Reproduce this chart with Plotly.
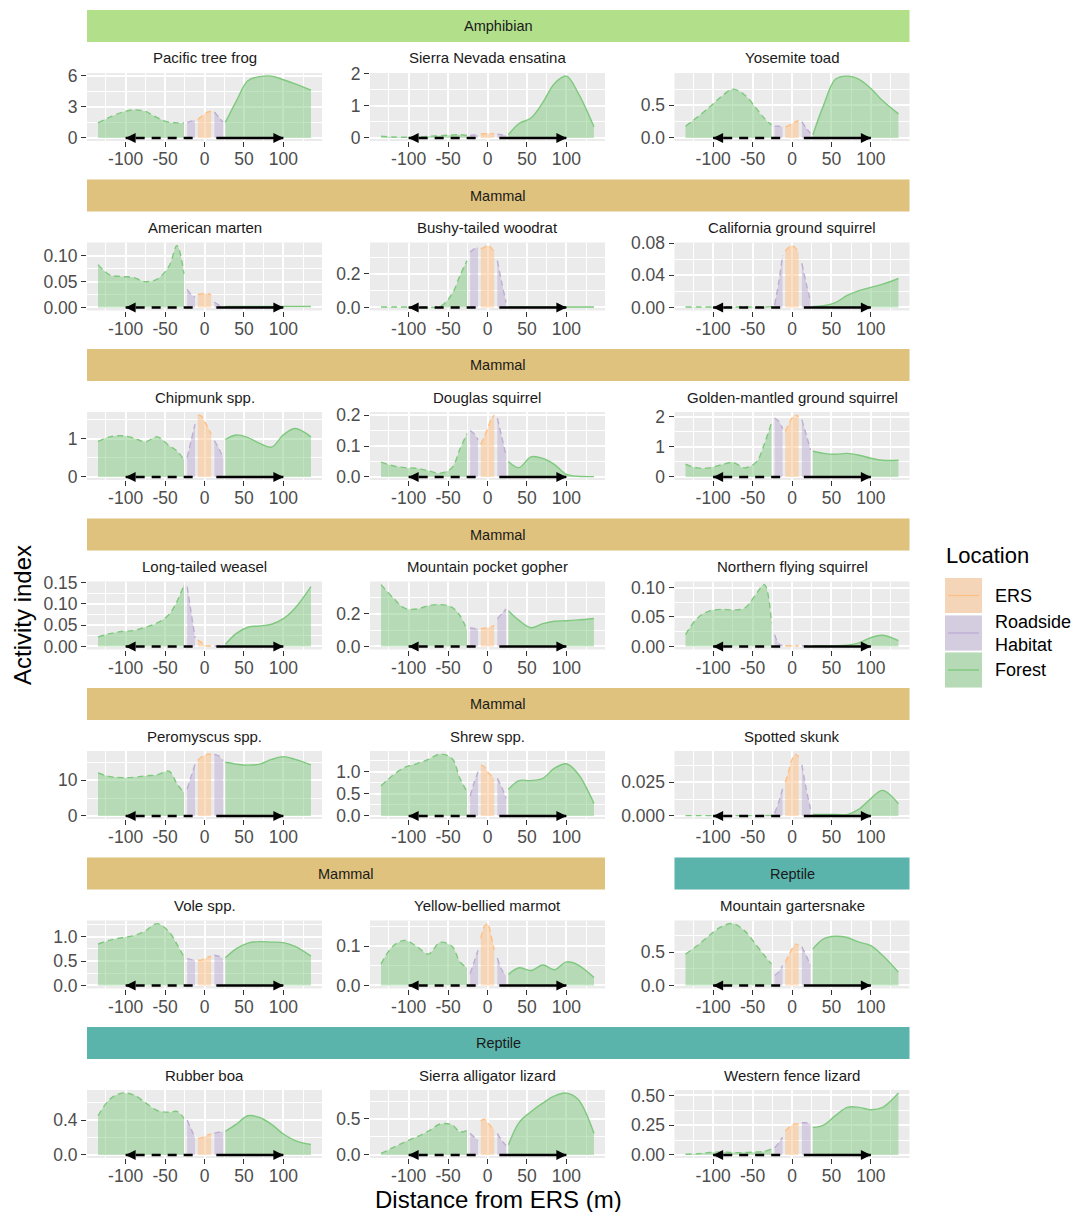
import plotly.graph_objects as go

FIG_W, FIG_H = 1075, 1212

# ---------------------------------------------------------------- data
species = [
    "Pacific tree frog", "Sierra Nevada ensatina", "Yosemite toad",
    "American marten", "Bushy-tailed woodrat", "California ground squirrel",
    "Chipmunk spp.", "Douglas squirrel", "Golden-mantled ground squirrel",
    "Long-tailed weasel", "Mountain pocket gopher", "Northern flying squirrel",
    "Peromyscus spp.", "Shrew spp.", "Spotted skunk",
    "Vole spp.", "Yellow-bellied marmot", "Mountain gartersnake",
    "Rubber boa", "Sierra alligator lizard", "Western fence lizard",
]

# taxon strips: (label, row, first column, last column)
taxon_strips = [
    ("Amphibian", 0, 0, 2),
    ("Mammal", 1, 0, 2),
    ("Mammal", 2, 0, 2),
    ("Mammal", 3, 0, 2),
    ("Mammal", 4, 0, 2),
    ("Mammal", 5, 0, 1),
    ("Reptile", 5, 2, 2),
    ("Reptile", 6, 0, 2),
]
taxon_colors = {"Amphibian": "#B2DF8A", "Mammal": "#DFC27D", "Reptile": "#5AB4AC"}

# distance (m) sampled within each location band
x_forest_left = [-135, -120, -105, -90, -75, -60, -45, -35, -26]
x_road_left = [-22, -17, -12]
x_ers = [-8.5, -4.25, 0, 4.25, 8.5]
x_road_right = [12.5, 18, 23.5]
x_forest_right = [26.5, 40, 55, 70, 85, 100, 115, 135]

forest_left = {
    "Pacific tree frog": [1.45, 2.0, 2.45, 2.7, 2.55, 1.95, 1.5, 1.45, 1.45],
    "Sierra Nevada ensatina": [0.05, 0.03, 0.02, 0.03, 0.05, 0.07, 0.09, 0.1, 0.08],
    "Yosemite toad": [0.18, 0.32, 0.47, 0.63, 0.75, 0.66, 0.45, 0.3, 0.2],
    "American marten": [0.083, 0.063, 0.06, 0.058, 0.05, 0.055, 0.08, 0.12, 0.065],
    "Bushy-tailed woodrat": [0.002, 0.002, 0.002, 0.002, 0.002, 0.005, 0.08, 0.19, 0.28],
    "California ground squirrel": [0.0005, 0.0005, 0.0005, 0.0005, 0.0005, 0.0005, 0.0005, 0.0005, 0.001],
    "Chipmunk spp.": [0.93, 1.05, 1.08, 1.02, 0.92, 1.05, 0.82, 0.68, 0.45],
    "Douglas squirrel": [0.048, 0.036, 0.03, 0.028, 0.02, 0.012, 0.03, 0.09, 0.14],
    "Golden-mantled ground squirrel": [0.42, 0.3, 0.3, 0.4, 0.48, 0.3, 0.5, 1.1, 1.8],
    "Long-tailed weasel": [0.022, 0.03, 0.035, 0.037, 0.045, 0.055, 0.075, 0.105, 0.145],
    "Mountain pocket gopher": [0.38, 0.3, 0.235, 0.23, 0.25, 0.257, 0.24, 0.19, 0.1],
    "Northern flying squirrel": [0.02, 0.048, 0.06, 0.063, 0.062, 0.065, 0.09, 0.105, 0.04],
    "Peromyscus spp.": [12, 11, 10.7, 10.8, 11.2, 11.5, 12.5, 9, 6.5],
    "Shrew spp.": [0.68, 0.92, 1.1, 1.18, 1.28, 1.4, 1.3, 0.85, 0.55],
    "Spotted skunk": [0.0002, 0.0002, 0.0002, 0.0002, 0.0002, 0.0002, 0.0002, 0.0002, 0.0003],
    "Vole spp.": [0.85, 0.93, 0.98, 1.02, 1.12, 1.27, 1.1, 0.85, 0.58],
    "Yellow-bellied marmot": [0.055, 0.1, 0.115, 0.1, 0.08, 0.11, 0.1, 0.06, 0.045],
    "Mountain gartersnake": [0.47, 0.6, 0.75, 0.88, 0.93, 0.82, 0.6, 0.45, 0.32],
    "Rubber boa": [0.45, 0.64, 0.71, 0.69, 0.6, 0.51, 0.49, 0.5, 0.42],
    "Sierra alligator lizard": [0.02, 0.1, 0.18, 0.25, 0.33, 0.43, 0.42, 0.32, 0.34],
    "Western fence lizard": [0.005, 0.01, 0.02, 0.025, 0.02, 0.02, 0.025, 0.03, 0.05],
}

road_left = {
    "Pacific tree frog": [1.5, 1.6, 1.7],
    "Sierra Nevada ensatina": [0.08, 0.09, 0.1],
    "Yosemite toad": [0.18, 0.18, 0.17],
    "American marten": [0.035, 0.025, 0.02],
    "Bushy-tailed woodrat": [0.33, 0.35, 0.36],
    "California ground squirrel": [0.003, 0.03, 0.065],
    "Chipmunk spp.": [0.5, 0.95, 1.38],
    "Douglas squirrel": [0.15, 0.14, 0.12],
    "Golden-mantled ground squirrel": [1.95, 1.85, 1.6],
    "Long-tailed weasel": [0.14, 0.08, 0.02],
    "Mountain pocket gopher": [0.115, 0.11, 0.11],
    "Northern flying squirrel": [0.02, 0.005, 0.001],
    "Peromyscus spp.": [7.5, 11, 14.5],
    "Shrew spp.": [0.45, 0.75, 1.0],
    "Spotted skunk": [0.002, 0.01, 0.02],
    "Vole spp.": [0.55, 0.53, 0.52],
    "Yellow-bellied marmot": [0.03, 0.06, 0.09],
    "Mountain gartersnake": [0.15, 0.2, 0.3],
    "Rubber boa": [0.4, 0.3, 0.19],
    "Sierra alligator lizard": [0.3, 0.25, 0.2],
    "Western fence lizard": [0.06, 0.1, 0.15],
}

ers = {
    "Pacific tree frog": [1.75, 2.05, 2.3, 2.5, 2.55],
    "Sierra Nevada ensatina": [0.12, 0.13, 0.14, 0.14, 0.13],
    "Yosemite toad": [0.17, 0.19, 0.22, 0.25, 0.26],
    "American marten": [0.025, 0.026, 0.027, 0.026, 0.025],
    "Bushy-tailed woodrat": [0.35, 0.36, 0.37, 0.36, 0.33],
    "California ground squirrel": [0.07, 0.075, 0.077, 0.074, 0.068],
    "Chipmunk spp.": [1.62, 1.6, 1.45, 1.3, 1.12],
    "Douglas squirrel": [0.105, 0.13, 0.155, 0.185, 0.2],
    "Golden-mantled ground squirrel": [1.5, 1.75, 1.95, 2.05, 2.0],
    "Long-tailed weasel": [0.015, 0.01, 0.003, 0.001, 0.001],
    "Mountain pocket gopher": [0.11, 0.112, 0.115, 0.12, 0.13],
    "Northern flying squirrel": [0.001, 0.001, 0.001, 0.001, 0.001],
    "Peromyscus spp.": [15.5, 16.5, 17, 17.3, 17.2],
    "Shrew spp.": [1.15, 1.12, 1.0, 0.92, 0.85],
    "Spotted skunk": [0.025, 0.033, 0.042, 0.046, 0.044],
    "Vole spp.": [0.52, 0.52, 0.55, 0.58, 0.6],
    "Yellow-bellied marmot": [0.12, 0.15, 0.158, 0.13, 0.09],
    "Mountain gartersnake": [0.35, 0.45, 0.55, 0.62, 0.6],
    "Rubber boa": [0.19, 0.195, 0.21, 0.23, 0.24],
    "Sierra alligator lizard": [0.47, 0.5, 0.45, 0.4, 0.35],
    "Western fence lizard": [0.2, 0.23, 0.25, 0.26, 0.26],
}

road_right = {
    "Pacific tree frog": [2.5, 2.0, 1.5],
    "Sierra Nevada ensatina": [0.12, 0.1, 0.08],
    "Yosemite toad": [0.25, 0.15, 0.07],
    "American marten": [0.01, 0.005, 0.002],
    "Bushy-tailed woodrat": [0.28, 0.15, 0.03],
    "California ground squirrel": [0.055, 0.03, 0.008],
    "Chipmunk spp.": [0.95, 0.75, 0.52],
    "Douglas squirrel": [0.19, 0.13, 0.07],
    "Golden-mantled ground squirrel": [1.9, 1.4, 0.9],
    "Long-tailed weasel": [0.001, 0.001, 0.001],
    "Mountain pocket gopher": [0.17, 0.2, 0.23],
    "Northern flying squirrel": [0.001, 0.001, 0.001],
    "Peromyscus spp.": [17.2, 16.8, 15.5],
    "Shrew spp.": [0.85, 0.65, 0.4],
    "Spotted skunk": [0.038, 0.02, 0.005],
    "Vole spp.": [0.62, 0.6, 0.55],
    "Yellow-bellied marmot": [0.07, 0.04, 0.025],
    "Mountain gartersnake": [0.58, 0.45, 0.3],
    "Rubber boa": [0.25, 0.26, 0.27],
    "Sierra alligator lizard": [0.3, 0.2, 0.13],
    "Western fence lizard": [0.27, 0.27, 0.26],
}

forest_right = {
    "Pacific tree frog": [1.5, 3.5, 5.5, 5.9, 5.95, 5.6, 5.2, 4.6],
    "Sierra Nevada ensatina": [0.1, 0.45, 0.62, 1.1, 1.7, 1.93, 1.4, 0.35],
    "Yosemite toad": [0.05, 0.5, 0.9, 0.95, 0.9, 0.76, 0.57, 0.37],
    "American marten": [0.002, 0.002, 0.002, 0.002, 0.002, 0.002, 0.002, 0.002],
    "Bushy-tailed woodrat": [0.002, 0.002, 0.002, 0.002, 0.002, 0.002, 0.002, 0.002],
    "California ground squirrel": [0.001, 0.002, 0.006, 0.015, 0.021, 0.025, 0.029, 0.036],
    "Chipmunk spp.": [0.98, 1.1, 1.03, 0.88, 0.78, 1.1, 1.27, 1.05],
    "Douglas squirrel": [0.05, 0.03, 0.065, 0.06, 0.04, 0.008, 0.002, 0.001],
    "Golden-mantled ground squirrel": [0.85, 0.78, 0.75, 0.78, 0.72, 0.62, 0.55, 0.55],
    "Long-tailed weasel": [0.005, 0.03, 0.045, 0.048, 0.052, 0.065, 0.09, 0.14],
    "Mountain pocket gopher": [0.22, 0.16, 0.115, 0.14, 0.155, 0.158, 0.163, 0.172],
    "Northern flying squirrel": [0.001, 0.001, 0.001, 0.002, 0.006, 0.015, 0.019, 0.01],
    "Peromyscus spp.": [15, 14.5, 14.2, 14.5, 15.8, 16.6, 15.8, 14.3],
    "Shrew spp.": [0.6, 0.8, 0.8, 0.85, 1.08, 1.18, 0.95, 0.28],
    "Spotted skunk": [0.001, 0.001, 0.001, 0.001, 0.005, 0.013, 0.019, 0.009],
    "Vole spp.": [0.57, 0.75, 0.87, 0.9, 0.89, 0.88, 0.8, 0.6],
    "Yellow-bellied marmot": [0.028, 0.045, 0.038, 0.052, 0.04, 0.06, 0.052, 0.02],
    "Mountain gartersnake": [0.55, 0.7, 0.74, 0.72, 0.65, 0.6, 0.45, 0.2],
    "Rubber boa": [0.27, 0.35, 0.45, 0.43, 0.35, 0.24, 0.165, 0.12],
    "Sierra alligator lizard": [0.14, 0.45, 0.6, 0.72, 0.82, 0.86, 0.77, 0.3],
    "Western fence lizard": [0.23, 0.25, 0.33, 0.4, 0.4, 0.38, 0.4, 0.52],
}

# y axis breaks and their labels, per panel
y_breaks = {
    "Pacific tree frog": [0, 3, 6],
    "Sierra Nevada ensatina": [0, 1, 2],
    "Yosemite toad": [0.0, 0.5],
    "American marten": [0.0, 0.05, 0.10],
    "Bushy-tailed woodrat": [0.0, 0.2],
    "California ground squirrel": [0.0, 0.04, 0.08],
    "Chipmunk spp.": [0, 1],
    "Douglas squirrel": [0.0, 0.1, 0.2],
    "Golden-mantled ground squirrel": [0, 1, 2],
    "Long-tailed weasel": [0.0, 0.05, 0.10, 0.15],
    "Mountain pocket gopher": [0.0, 0.2, 0.4],
    "Northern flying squirrel": [0.0, 0.05, 0.10],
    "Peromyscus spp.": [0, 10],
    "Shrew spp.": [0.0, 0.5, 1.0],
    "Spotted skunk": [0.0, 0.025],
    "Vole spp.": [0.0, 0.5, 1.0],
    "Yellow-bellied marmot": [0.0, 0.1],
    "Mountain gartersnake": [0.0, 0.5],
    "Rubber boa": [0.0, 0.4],
    "Sierra alligator lizard": [0.0, 0.5],
    "Western fence lizard": [0.0, 0.25, 0.50],
}
y_labels = {
    "Pacific tree frog": ["0", "3", "6"],
    "Sierra Nevada ensatina": ["0", "1", "2"],
    "Yosemite toad": ["0.0", "0.5"],
    "American marten": ["0.00", "0.05", "0.10"],
    "Bushy-tailed woodrat": ["0.0", "0.2"],
    "California ground squirrel": ["0.00", "0.04", "0.08"],
    "Chipmunk spp.": ["0", "1"],
    "Douglas squirrel": ["0.0", "0.1", "0.2"],
    "Golden-mantled ground squirrel": ["0", "1", "2"],
    "Long-tailed weasel": ["0.00", "0.05", "0.10", "0.15"],
    "Mountain pocket gopher": ["0.0", "0.2", "0.4"],
    "Northern flying squirrel": ["0.00", "0.05", "0.10"],
    "Peromyscus spp.": ["0", "10"],
    "Shrew spp.": ["0.0", "0.5", "1.0"],
    "Spotted skunk": ["0.000", "0.025"],
    "Vole spp.": ["0.0", "0.5", "1.0"],
    "Yellow-bellied marmot": ["0.0", "0.1"],
    "Mountain gartersnake": ["0.0", "0.5"],
    "Rubber boa": ["0.0", "0.4"],
    "Sierra alligator lizard": ["0.0", "0.5"],
    "Western fence lizard": ["0.00", "0.25", "0.50"],
}

x_breaks = [-100, -50, 0, 50, 100]
x_labels = ["-100", "-50", "0", "50", "100"]
x_limits = [-149, 149]

# movement arrows drawn along the baseline (start, tip)
arrow_dashed = (-15, -100)
arrow_solid = (15, 100)

location_names = ["ERS", "Roadside\nHabitat", "Forest"]
location_colors = {"ERS": "#FDC086", "Roadside": "#BEAED4", "Forest": "#7FC97F"}

# ---------------------------------------------------------------- layout geometry (px)
col_px = [(87, 322), (370, 605), (674.5, 909.5)]
ROW_STEP = 169.5
PANEL_TOP0, PANEL_H = 73, 68
STRIP_TOP0, STRIP_H = 10, 32
TITLE_Y0 = 58

FONT = "Liberation Sans, Arial, sans-serif"
PANEL_BG = "#EBEBEB"


def px_x(v):
    return v / FIG_W


def px_y(v):
    return 1 - v / FIG_H


def rgba(hex_color, a):
    h = hex_color.lstrip("#")
    r, g, b = int(h[0:2], 16), int(h[2:4], 16), int(h[4:6], 16)
    return f"rgba({r},{g},{b},{a})"


def minor_breaks(major, lo, hi):
    step = major[1] - major[0]
    cands = [major[0] - step / 2] + [m + step / 2 for m in major]
    return [v for v in cands if lo <= v <= hi]


fig = go.Figure()
annotations = []
shapes = []
layout_axes = {}

for k, name in enumerate(species):
    r, c = divmod(k, 3)
    idx = k + 1
    sfx = "" if idx == 1 else str(idx)
    xref, yref = f"x{sfx}", f"y{sfx}"

    segments = [
        (x_forest_left, forest_left[name], "Forest", "6px,4px"),
        (x_road_left, road_left[name], "Roadside", "6px,4px"),
        (x_ers, ers[name], "ERS", "6px,4px"),
        (x_road_right, road_right[name], "Roadside", "6px,4px"),
        (x_forest_right, forest_right[name], "Forest", "solid"),
    ]
    ymax = max(max(vals) for _, vals, _, _ in segments)
    y_lo, y_hi = -0.05 * ymax, 1.05 * ymax

    for xs, vals, loc, dash in segments:
        col = location_colors[loc]
        fig.add_trace(go.Scatter(
            x=xs, y=vals, xaxis=xref, yaxis=yref, mode="lines",
            line=dict(color=col, width=1.4, dash=dash, shape="spline", smoothing=1.0),
            fill="tozeroy", fillcolor=rgba(col, 0.5),
            showlegend=False, hoverinfo="skip",
        ))

    # baseline arrows
    fig.add_trace(go.Scatter(
        x=list(arrow_dashed), y=[0, 0], xaxis=xref, yaxis=yref, mode="lines",
        line=dict(color="black", width=2.5, dash="9px,7px"),
        showlegend=False, hoverinfo="skip"))
    fig.add_trace(go.Scatter(
        x=list(arrow_solid), y=[0, 0], xaxis=xref, yaxis=yref, mode="lines",
        line=dict(color="black", width=2.5),
        showlegend=False, hoverinfo="skip"))
    for start, tip in (arrow_dashed, arrow_solid):
        tail_px = 6 if start > tip else -6
        annotations.append(dict(
            x=tip, y=0, ax=tail_px, ay=0, xref=xref, yref=yref,
            text="", showarrow=True, arrowhead=2, arrowsize=0.8, arrowwidth=2.5,
            arrowcolor="black", standoff=0, startstandoff=0))

    x0, x1 = col_px[c]
    top = PANEL_TOP0 + ROW_STEP * r
    bot = top + PANEL_H
    ticks_common = dict(
        ticks="outside", ticklen=5, tickwidth=1.2, tickcolor="#333333",
        tickfont=dict(family=FONT, size=17.5, color="#4D4D4D"),
        showline=False, zeroline=False, automargin=False,
        showgrid=True, gridcolor="white", gridwidth=1.6,
    )
    layout_axes[f"xaxis{sfx}"] = dict(
        domain=[px_x(x0), px_x(x1)], anchor=yref, range=x_limits,
        tickmode="array", tickvals=x_breaks, ticktext=x_labels,
        ticklabelstandoff=-3,
        minor=dict(tickvals=minor_breaks(x_breaks, *x_limits), showgrid=True,
                   gridcolor="white", gridwidth=0.8, ticks=""),
        **ticks_common)
    layout_axes[f"yaxis{sfx}"] = dict(
        domain=[px_y(bot), px_y(top)], anchor=xref, range=[y_lo, y_hi],
        tickmode="array", tickvals=y_breaks[name], ticktext=y_labels[name],
        minor=dict(tickvals=minor_breaks(y_breaks[name], y_lo, y_hi), showgrid=True,
                   gridcolor="white", gridwidth=0.8, ticks=""),
        **ticks_common)

    # panel background
    shapes.append(dict(type="rect", xref="paper", yref="paper", layer="below",
                       x0=px_x(x0), x1=px_x(x1), y0=px_y(bot), y1=px_y(top),
                       fillcolor=PANEL_BG, line=dict(width=0)))
    # species title
    annotations.append(dict(
        x=px_x((x0 + x1) / 2), y=px_y(TITLE_Y0 + ROW_STEP * r), xref="paper", yref="paper",
        text=name, showarrow=False, xanchor="center", yanchor="middle",
        font=dict(family=FONT, size=15, color="#1A1A1A")))

# taxon strips
for label, r, c_first, c_last in taxon_strips:
    x0 = col_px[c_first][0]
    x1 = col_px[c_last][1]
    top = STRIP_TOP0 + ROW_STEP * r
    shapes.append(dict(type="rect", xref="paper", yref="paper",
                       x0=px_x(x0), x1=px_x(x1), y0=px_y(top + STRIP_H), y1=px_y(top),
                       fillcolor=taxon_colors[label], line=dict(width=0)))
    annotations.append(dict(
        x=px_x((x0 + x1) / 2), y=px_y(top + STRIP_H / 2), xref="paper", yref="paper",
        text=label, showarrow=False, xanchor="center", yanchor="middle",
        font=dict(family=FONT, size=14.5, color="#1A1A1A")))

# axis titles
annotations.append(dict(
    x=px_x(498), y=px_y(1199), xref="paper", yref="paper", text="Distance from ERS (m)",
    showarrow=False, xanchor="center", yanchor="middle",
    font=dict(family=FONT, size=24, color="black")))
annotations.append(dict(
    x=px_x(22), y=px_y(615), xref="paper", yref="paper", text="Activity index",
    showarrow=False, xanchor="center", yanchor="middle", textangle=-90,
    font=dict(family=FONT, size=24, color="black")))

# legend
annotations.append(dict(
    x=px_x(944), y=px_y(555), xref="paper", yref="paper", text="Location",
    showarrow=False, xanchor="left", yanchor="middle",
    font=dict(family=FONT, size=22, color="black")))
key_tops = [578, 615.5, 652.5]
KEY_W, KEY_H = 37, 35
for name_txt, key_top in zip(location_names, key_tops):
    loc = name_txt.split("\n")[0]
    col = location_colors[loc]
    kx0, kx1 = 945, 945 + KEY_W
    ky0, ky1 = key_top, key_top + KEY_H
    shapes.append(dict(type="rect", xref="paper", yref="paper",
                       x0=px_x(kx0), x1=px_x(kx1), y0=px_y(ky1), y1=px_y(ky0),
                       fillcolor=PANEL_BG, line=dict(width=0)))
    shapes.append(dict(type="rect", xref="paper", yref="paper",
                       x0=px_x(kx0), x1=px_x(kx1), y0=px_y(ky1), y1=px_y(ky0),
                       fillcolor=rgba(col, 0.5), line=dict(width=0)))
    shapes.append(dict(type="line", xref="paper", yref="paper",
                       x0=px_x(kx0 + 3), x1=px_x(kx1 - 3),
                       y0=px_y((ky0 + ky1) / 2), y1=px_y((ky0 + ky1) / 2),
                       line=dict(color=col, width=1.4)))
    annotations.append(dict(
        x=px_x(993), y=px_y((ky0 + ky1) / 2), xref="paper", yref="paper",
        text=name_txt.replace("\n", "<br>"), showarrow=False, xanchor="left",
        yanchor="middle", align="left",
        font=dict(family=FONT, size=18, color="black")))

fig.update_layout(
    width=FIG_W, height=FIG_H,
    margin=dict(l=0, r=0, t=0, b=0, autoexpand=False),
    paper_bgcolor="white", plot_bgcolor="rgba(0,0,0,0)",
    showlegend=False,
    annotations=annotations, shapes=shapes,
    **layout_axes,
)

fig.write_html("out.html")
